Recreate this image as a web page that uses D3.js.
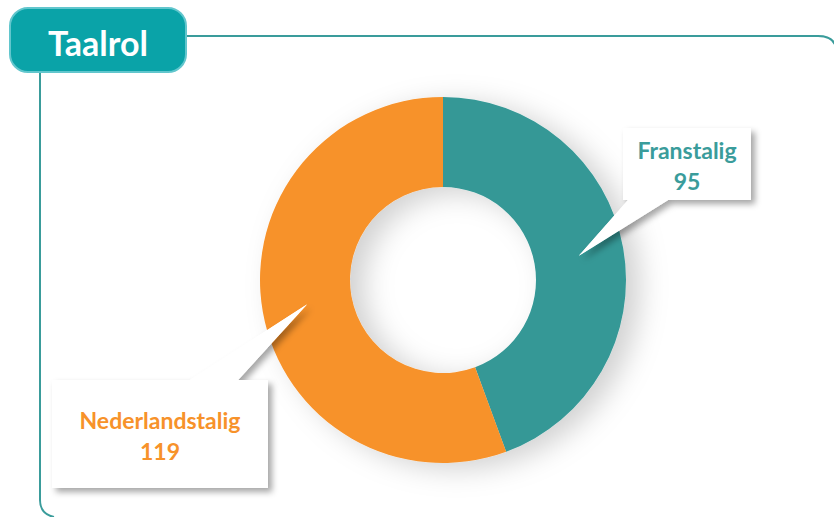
<!DOCTYPE html>
<html lang="nl">
<head>
<meta charset="UTF-8">
<title>Taalrol</title>
<script src="https://d3js.org/d3.v7.min.js"></script>
<style>
  body { margin: 0; background: #fff; }
  svg { display: block; font-family: Lato, "Open Sans", sans-serif; }
</style>
</head>
<body>
<script>
    const categories = ["Franstalig", "Nederlandstalig"];
    const values = [95, 119];
    const colors = ["#359896", "#f7922a"];
    const textColors = ["#3a9c9b", "#f7922a"];
    const title = "Taalrol";

    const W = 834, H = 517;
    let svg = d3.select("body").append("svg")
        .attr("width", W)
        .attr("height", H);

    let defs = svg.append("defs");
    let sh = defs.append("filter").attr("id", "shadow")
        .attr("x", "-20%").attr("y", "-20%").attr("width", "150%").attr("height", "150%");
    sh.append("feDropShadow").attr("dx", 4).attr("dy", 4).attr("stdDeviation", 3)
        .attr("flood-color", "#000").attr("flood-opacity", 0.35);
    let dsh = defs.append("filter").attr("id", "donutShadow")
        .attr("x", "-30%").attr("y", "-30%").attr("width", "170%").attr("height", "170%");
    dsh.append("feDropShadow").attr("dx", 14).attr("dy", 6).attr("stdDeviation", 14)
        .attr("flood-color", "#000").attr("flood-opacity", 0.18);

    // frame
    svg.append("path")
        .attr("d", "M40,500 L40,36 L818,36 Q834,36 836,48")
        .attr("fill", "none").attr("stroke", "#3a9c9b").attr("stroke-width", 2);
    svg.append("path")
        .attr("d", "M40,500 Q40,514 54,517")
        .attr("fill", "none").attr("stroke", "#3a9c9b").attr("stroke-width", 2);

    // title badge
    svg.append("rect")
        .attr("x", 10).attr("y", 8).attr("width", 176).attr("height", 64).attr("rx", 18)
        .attr("fill", "#0aa3a8").attr("stroke", "#62c6cd").attr("stroke-width", 2);
    svg.append("text")
        .attr("x", 98).attr("y", 56).attr("text-anchor", "middle")
        .attr("fill", "#fff").attr("font-size", 34).attr("font-weight", "bold")
        .text(title);

    // donut
    const cx = 443, cy = 280, rOuter = 183, rInner = 93;
    const pie = d3.pie().sort(null).value(d => d);
    const arcs = pie(values);
    const arc = d3.arc().innerRadius(rInner).outerRadius(rOuter);
    const midArc = d3.arc().innerRadius(138).outerRadius(138);

    let g = svg.append("g").attr("transform", `translate(${cx},${cy})`);
    g.append("g").attr("filter", "url(#donutShadow)")
        .selectAll("path")
        .data(arcs)
        .enter().append("path")
        .attr("d", arc)
        .attr("fill", (d, i) => colors[i]);

    // callouts: box + pointer to slice centroid
    const boxes = [
        { x: 623, y: 128, w: 128, h: 72, base: [628, 668] },
        { x: 52, y: 380, w: 216, h: 108, base: [190, 238] }
    ];

    arcs.forEach((d, i) => {
        const b = boxes[i];
        const c = midArc.centroid(d);
        const tip = [cx + c[0], cy + c[1]];
        const by = i === 0 ? b.y + b.h : b.y;
        const pointer = `M${b.base[0]},${by} L${tip[0]},${tip[1]} L${b.base[1]},${by} Z`;
        let cg = svg.append("g").attr("filter", "url(#shadow)");
        cg.append("path").attr("d", pointer).attr("fill", "#fff");
        cg.append("rect")
            .attr("x", b.x).attr("y", b.y).attr("width", b.w).attr("height", b.h)
            .attr("fill", "#fff");
        // cover seam between pointer and box
        svg.append("path").attr("d", pointer).attr("fill", "#fff");
        svg.append("rect")
            .attr("x", b.x).attr("y", b.y).attr("width", b.w).attr("height", b.h)
            .attr("fill", "#fff");
        const tx = b.x + b.w / 2;
        const ty = b.y + b.h / 2;
        svg.append("text")
            .attr("x", tx).attr("y", ty - 5)
            .attr("text-anchor", "middle").attr("fill", textColors[i])
            .attr("font-size", 23).attr("font-weight", "bold")
            .text(categories[i]);
        svg.append("text")
            .attr("x", tx).attr("y", ty + 26)
            .attr("text-anchor", "middle").attr("fill", textColors[i])
            .attr("font-size", 23).attr("font-weight", "bold")
            .text(values[i]);
    });
</script>
</body>
</html>
